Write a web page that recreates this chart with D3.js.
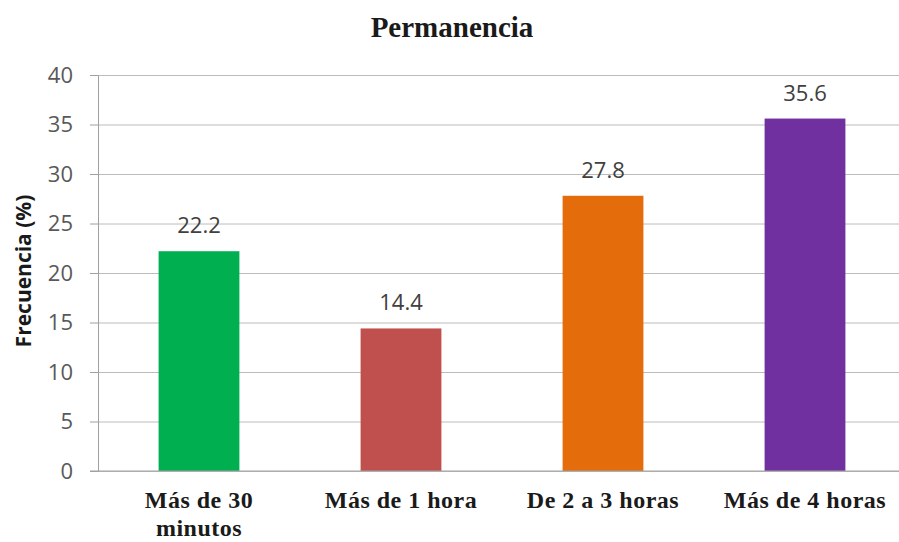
<!DOCTYPE html>
<html>
<head>
<meta charset="utf-8">
<style>
  html, body { margin: 0; padding: 0; background: #fff; }
  .tick text { fill: #595959; font: 22px "Open Sans", sans-serif; }
  .grid line { stroke: #bcbcbc; }
  .cat { font: bold 24px "Liberation Serif", serif; fill: #1a1a1a; letter-spacing: 0.5px; }
  .val { font: 22px "Open Sans", sans-serif; fill: #404040; }
</style>
</head>
<body>
<div id="chart"></div>
<script src="https://d3js.org/d3.v7.min.js"></script>
<script>

var categories = [["Más de 30", "minutos"], ["Más de 1 hora"], ["De 2 a 3 horas"], ["Más de 4 horas"]],
    values = [22.2, 14.4, 27.8, 35.6],
    colors = ["#00b050", "#c0504d", "#e46c0a", "#7030a0"],
    yTicks = [0, 5, 10, 15, 20, 25, 30, 35, 40];

var width = 899, height = 542;

var svg = d3.select("#chart").append("svg")
    .attr("width", width)
    .attr("height", height);

var x = d3.scaleBand()
    .domain(d3.range(values.length))
    .range([98, 906])
    .paddingInner(0.6)
    .paddingOuter(0.3);

var y = d3.scaleLinear()
    .domain([0, 40])
    .range([471, 75]);

// gridlines
svg.append("g")
    .attr("class", "grid")
    .attr("transform", "translate(98,0)")
    .call(d3.axisLeft(y).tickValues(yTicks).tickSize(-808).tickFormat(""))
    .call(function(g) { g.select(".domain").remove(); });

// y axis
var yAxis = svg.append("g")
    .attr("transform", "translate(98,0)")
    .call(d3.axisLeft(y).tickValues(yTicks).tickSize(8).tickPadding(17));
yAxis.select(".domain").attr("stroke", "#a0a0a0");
yAxis.selectAll(".tick line").attr("stroke", "#a0a0a0");

// bars
svg.selectAll(".bar")
    .data(values)
  .enter().append("rect")
    .attr("class", "bar")
    .attr("x", function(d, i) { return x(i); })
    .attr("width", x.bandwidth())
    .attr("y", function(d) { return y(d); })
    .attr("height", function(d) { return y(0) - y(d); })
    .attr("fill", function(d, i) { return colors[i]; });

// value labels
svg.selectAll(".val")
    .data(values)
  .enter().append("text")
    .attr("class", "val")
    .attr("x", function(d, i) { return x(i) + x.bandwidth() / 2; })
    .attr("y", function(d) { return y(d) - 18; })
    .attr("text-anchor", "middle")
    .text(function(d) { return d.toFixed(1); });

// x axis line
svg.append("line")
    .attr("x1", 90).attr("x2", 906)
    .attr("y1", y(0)).attr("y2", y(0))
    .attr("stroke", "#a0a0a0");

// category labels
var cat = svg.selectAll(".cat")
    .data(categories)
  .enter().append("text")
    .attr("class", "cat")
    .attr("text-anchor", "middle")
    .attr("x", function(d, i) { return x(i) + x.bandwidth() / 2; })
    .attr("y", 508);
cat.selectAll("tspan")
    .data(function(d) { return d; })
  .enter().append("tspan")
    .attr("x", function() { return this.parentNode.getAttribute("x"); })
    .attr("dy", function(d, i) { return i ? 28 : 0; })
    .text(function(d) { return d; });

// y axis title
svg.append("text")
    .attr("transform", "translate(31,271) rotate(-90)")
    .attr("text-anchor", "middle")
    .style("font", "bold 21px 'Open Sans', sans-serif")
    .attr("fill", "#1a1a1a")
    .text("Frecuencia (%)");

// title
svg.append("text")
    .attr("x", 452)
    .attr("y", 37)
    .attr("text-anchor", "middle")
    .style("font", "bold 29px 'Liberation Serif', serif")
    .attr("fill", "#1a1a1a")
    .text("Permanencia");

</script>
</body>
</html>
